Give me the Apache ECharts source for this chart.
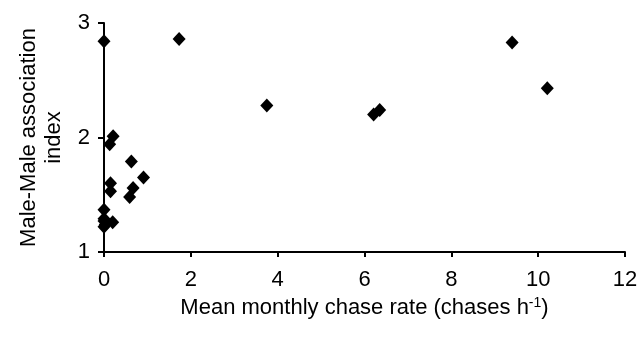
<!DOCTYPE html>
<html>
<head>
<meta charset="utf-8">
<style>
  html, body { margin: 0; padding: 0; background: #fff; }
  #chart { width: 641px; height: 338px; }
</style>
<script src="https://cdn.jsdelivr.net/npm/echarts@6/dist/echarts.min.js"></script>
</head>
<body>
<div id="chart"></div>
<script>
// chase rate (x) and association index (y)
const chaseRate = [0, 1.73, 3.75, 6.21, 6.35, 9.40, 10.21,
  0.21, 0.13, 0.63, 0.91, 0.15, 0.15, 0.67, 0.59,
  0, 0, 0, 0.2, 0, 0.03];
const assocIndex = [2.84, 2.86, 2.28, 2.20, 2.24, 2.83, 2.43,
  2.01, 1.94, 1.79, 1.65, 1.60, 1.53, 1.56, 1.48,
  1.37, 1.29, 1.27, 1.26, 1.22, 1.24];
const xTicks = [0, 2, 4, 6, 8, 10, 12];
const yTicks = [1, 2, 3];

const points = chaseRate.map((x, i) => [x, assocIndex[i]]);

const chart = echarts.init(document.getElementById('chart'), null, { renderer: 'canvas' });
const font = 'Liberation Sans, Arial, sans-serif';
const axisLine = { show: true, onZero: false, lineStyle: { color: '#000', width: 2 } };

chart.setOption({
  animation: false,
  grid: { left: 104, right: 16, top: 23, bottom: 86 },
  xAxis: {
    type: 'value', min: xTicks[0], max: xTicks[xTicks.length - 1], interval: 2,
    axisLine: axisLine,
    axisTick: { show: true, inside: false, length: 5, lineStyle: { color: '#000', width: 2 } },
    splitLine: { show: false },
    axisLabel: { color: '#000', fontSize: 22, fontFamily: font, margin: 17 },
    name: '{t|Mean monthly chase rate (chases h}{s|-1}{t|)}',
    nameLocation: 'middle', nameGap: 38,
    nameTextStyle: {
      rich: {
        t: { fontSize: 22, fontFamily: font, color: '#000' },
        s: { fontSize: 14, fontFamily: font, color: '#000', verticalAlign: 'top', padding: [0, 0, 10, 0] }
      }
    }
  },
  yAxis: {
    type: 'value', min: yTicks[0], max: yTicks[yTicks.length - 1], interval: 1,
    axisLine: axisLine,
    axisTick: { show: true, inside: false, length: 6, lineStyle: { color: '#000', width: 2 } },
    splitLine: { show: false },
    axisLabel: { color: '#000', fontSize: 22, fontFamily: font, margin: 14 },
    name: 'Male-Male association\nindex',
    nameLocation: 'middle', nameRotate: 90, nameGap: 32,
    nameTextStyle: { fontSize: 22, fontFamily: font, color: '#000', lineHeight: 25, align: 'center' }
  },
  series: [{
    type: 'scatter',
    data: points,
    symbol: 'diamond',
    symbolSize: [13, 14],
    itemStyle: { color: '#000', opacity: 1 }
  }]
});
</script>
</body>
</html>
